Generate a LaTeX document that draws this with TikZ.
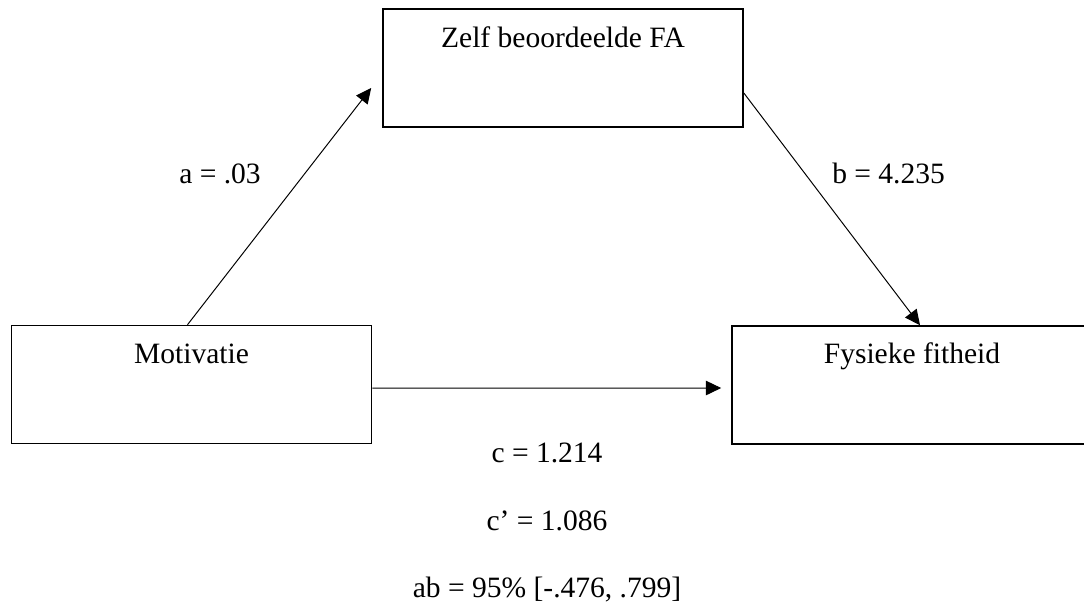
\documentclass[tikz,border=0pt]{standalone}
\usepackage{fontspec}
\setmainfont{Liberation Serif}
\usetikzlibrary{arrows.meta}

\tikzset{
  varbox/.style={draw, line width=1.1pt, minimum width=9cm, minimum height=2.95cm, inner sep=0pt},
  arr/.style={line width=0.7pt, -{Triangle[length=0.38cm, width=0.36cm]}},
  lbl/.style={anchor=base, inner sep=0pt, font=\fontsize{21}{25}\selectfont}
}

\begin{document}
\begin{tikzpicture}[x=0.025cm, y=-0.025cm]
  \clip (0,0) rectangle (1084,607);

  % the three variables
  \node[varbox] (zelf) at (563,68) {};
  \node[varbox] (motiv) at (191.5,384.5) {};
  \node[varbox] (fys) at (912,385) {};
  \node[lbl] (zelftxt) at (563,47) {Zelf beoordeelde FA};
  \node[lbl] (motivtxt) at (191.5,363) {Motivatie};
  \node[lbl] (fystxt) at (912,363) {Fysieke fitheid};

  % paths a, b and c
  \draw[arr] ([xshift=-0.1cm]motiv.north) -- ([xshift=-0.275cm, yshift=-0.5cm]zelf.west);
  \draw[arr] ([yshift=-0.625cm]zelf.east) -- ([xshift=0.2cm]fys.north);
  \draw[arr] ([yshift=-0.09cm]motiv.east) -- ([xshift=-0.25cm, yshift=-0.075cm]fys.west);

  \node[lbl] (alab) at (220,183) {a = .03};
  \node[lbl, anchor=base west] (blab) at (832,183) {b = 4.235};
  \node[lbl] (clab) at (547,462) {c = 1.214};
  \node[lbl] (cplab) at (547,530) {c’ = 1.086};
  \node[lbl] (ablab) at (547,597) {ab = 95\% [-.476, .799]};

\end{tikzpicture}
\end{document}
